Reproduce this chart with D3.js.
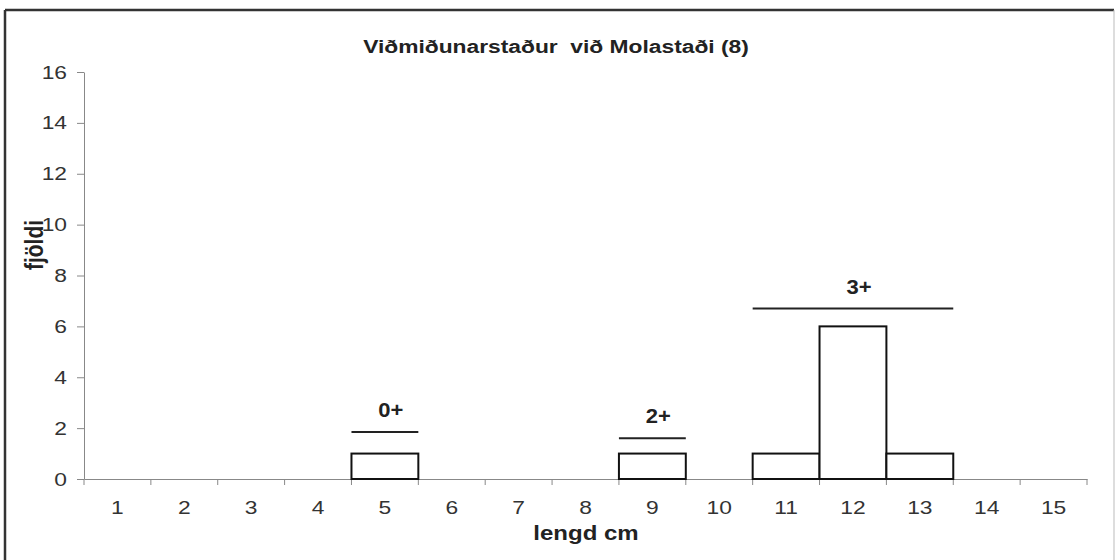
<!DOCTYPE html>
<html>
<head>
<meta charset="utf-8">
<script src="https://cdn.jsdelivr.net/npm/d3@7"></script>
<style>
  body { margin: 0; background: #fff; }
  svg { display: block; font-family: "Liberation Sans", Arial, sans-serif; }
</style>
</head>
<body>
<svg id="chart" width="1115" height="560"></svg>
<script>
// length classes (cm) and counts
const lengths = [1, 2, 3, 4, 5, 6, 7, 8, 9, 10, 11, 12, 13, 14, 15];
const counts  = [0, 0, 0, 0, 1, 0, 0, 0, 1, 0, 1, 6, 1, 0, 0];
const yTicks = [0, 2, 4, 6, 8, 10, 12, 14, 16];

// age group annotations: label, first/last length class, level (in count units)
const groupLabels = ['0+', '2+', '3+'];
const groupFrom   = [5, 9, 11];
const groupTo     = [5, 9, 13];
const groupLevel  = [1.85, 1.6, 6.7];

const title = 'Viðmiðunarstaður  við Molastaði (8)';

const svg = d3.select('#chart');
const margin = { top: 72, right: 28, bottom: 81, left: 84 };
const width = 1115, height = 560;
const SX = 1.2; // the scanned text is a bit wider than plain Arial

// widen text horizontally around its anchor point
function stretch(sel, sx) {
  sel.each(function () {
    const t = d3.select(this);
    const tx = +t.attr('x') || 0;
    const ty = +t.attr('y') || 0;
    t.attr('x', 0).attr('y', 0).attr('transform', `translate(${tx},${ty}) scale(${sx},1)`);
  });
}

// frame
svg.append('line').attr('x1', 5).attr('y1', 10).attr('x2', 1114).attr('y2', 10)
  .attr('stroke', '#333').attr('stroke-width', 2.5);
svg.append('line').attr('x1', 5).attr('y1', 10).attr('x2', 5).attr('y2', 560)
  .attr('stroke', '#333').attr('stroke-width', 2.5);
svg.append('line').attr('x1', 1114).attr('y1', 10).attr('x2', 1114).attr('y2', 560)
  .attr('stroke', '#bbb').attr('stroke-width', 1);

const x = d3.scaleBand()
  .domain(lengths)
  .range([margin.left, width - margin.right])
  .padding(0);

const y = d3.scaleLinear()
  .domain([0, 16])
  .range([height - margin.bottom, margin.top]);

// y axis
const yAxis = svg.append('g')
  .attr('transform', `translate(${margin.left},0)`)
  .call(d3.axisLeft(y).tickValues(yTicks).tickSize(7).tickPadding(10).tickSizeOuter(0));
yAxis.select('.domain').attr('stroke', '#888');
yAxis.selectAll('.tick line').attr('stroke', '#888');
yAxis.selectAll('.tick text').attr('font-size', 19).attr('fill', '#333')
  .attr('font-family', '"Liberation Sans", Arial, sans-serif')
  .call(stretch, SX);

// x axis: ticks between categories
const xAxis = svg.append('g')
  .attr('transform', `translate(0,${y(0)})`)
  .call(d3.axisBottom(x).tickSize(0).tickPadding(22).tickSizeOuter(0));
xAxis.select('.domain').attr('stroke', '#888');
xAxis.selectAll('.tick text').attr('font-size', 19).attr('fill', '#333')
  .attr('font-family', '"Liberation Sans", Arial, sans-serif')
  .call(stretch, SX);
const edges = lengths.map(d => x(d)).concat([x(lengths[lengths.length - 1]) + x.bandwidth()]);
svg.append('g')
  .selectAll('line')
  .data(edges)
  .enter()
  .append('line')
  .attr('x1', d => d)
  .attr('x2', d => d)
  .attr('y1', y(0))
  .attr('y2', y(0) + 6)
  .attr('stroke', '#888');

// bars
svg.append('g')
  .selectAll('rect')
  .data(lengths.map((l, i) => ({ l, v: counts[i] })).filter(d => d.v > 0))
  .enter()
  .append('rect')
  .attr('x', d => x(d.l))
  .attr('y', d => y(d.v))
  .attr('width', x.bandwidth())
  .attr('height', d => y(0) - y(d.v))
  .attr('fill', '#fff')
  .attr('stroke', '#111')
  .attr('stroke-width', 2);

// age group lines and labels
const groups = groupLabels.map((g, i) => ({
  g, x1: x(groupFrom[i]), x2: x(groupTo[i]) + x.bandwidth(), lv: groupLevel[i]
}));
svg.append('g').selectAll('line')
  .data(groups)
  .enter()
  .append('line')
  .attr('x1', d => d.x1)
  .attr('x2', d => d.x2)
  .attr('y1', d => y(d.lv))
  .attr('y2', d => y(d.lv))
  .attr('stroke', '#222')
  .attr('stroke-width', 2);
svg.append('g').selectAll('text')
  .data(groups)
  .enter()
  .append('text')
  .attr('x', d => (d.x1 + d.x2) / 2 + 6)
  .attr('y', d => y(d.lv) - 15)
  .attr('text-anchor', 'middle')
  .attr('font-size', 20)
  .attr('font-weight', 'bold')
  .attr('fill', '#222')
  .text(d => d.g)
  .call(stretch, 1.1);

// title and axis labels
svg.append('text')
  .attr('x', 556).attr('y', 53)
  .attr('text-anchor', 'middle')
  .attr('font-size', 19).attr('font-weight', 'bold').attr('fill', '#222')
  .style('white-space', 'pre')
  .text(title)
  .call(stretch, SX);

svg.append('text')
  .attr('x', 586).attr('y', 540)
  .attr('text-anchor', 'middle')
  .attr('font-size', 20).attr('font-weight', 'bold').attr('fill', '#222')
  .text('lengd cm')
  .call(stretch, SX);

svg.append('text')
  .attr('transform', 'translate(43,245) rotate(-90) scale(1,1.2)')
  .attr('text-anchor', 'middle')
  .attr('font-size', 21).attr('font-weight', 'bold').attr('fill', '#222')
  .text('fjöldi');
</script>
</body>
</html>
